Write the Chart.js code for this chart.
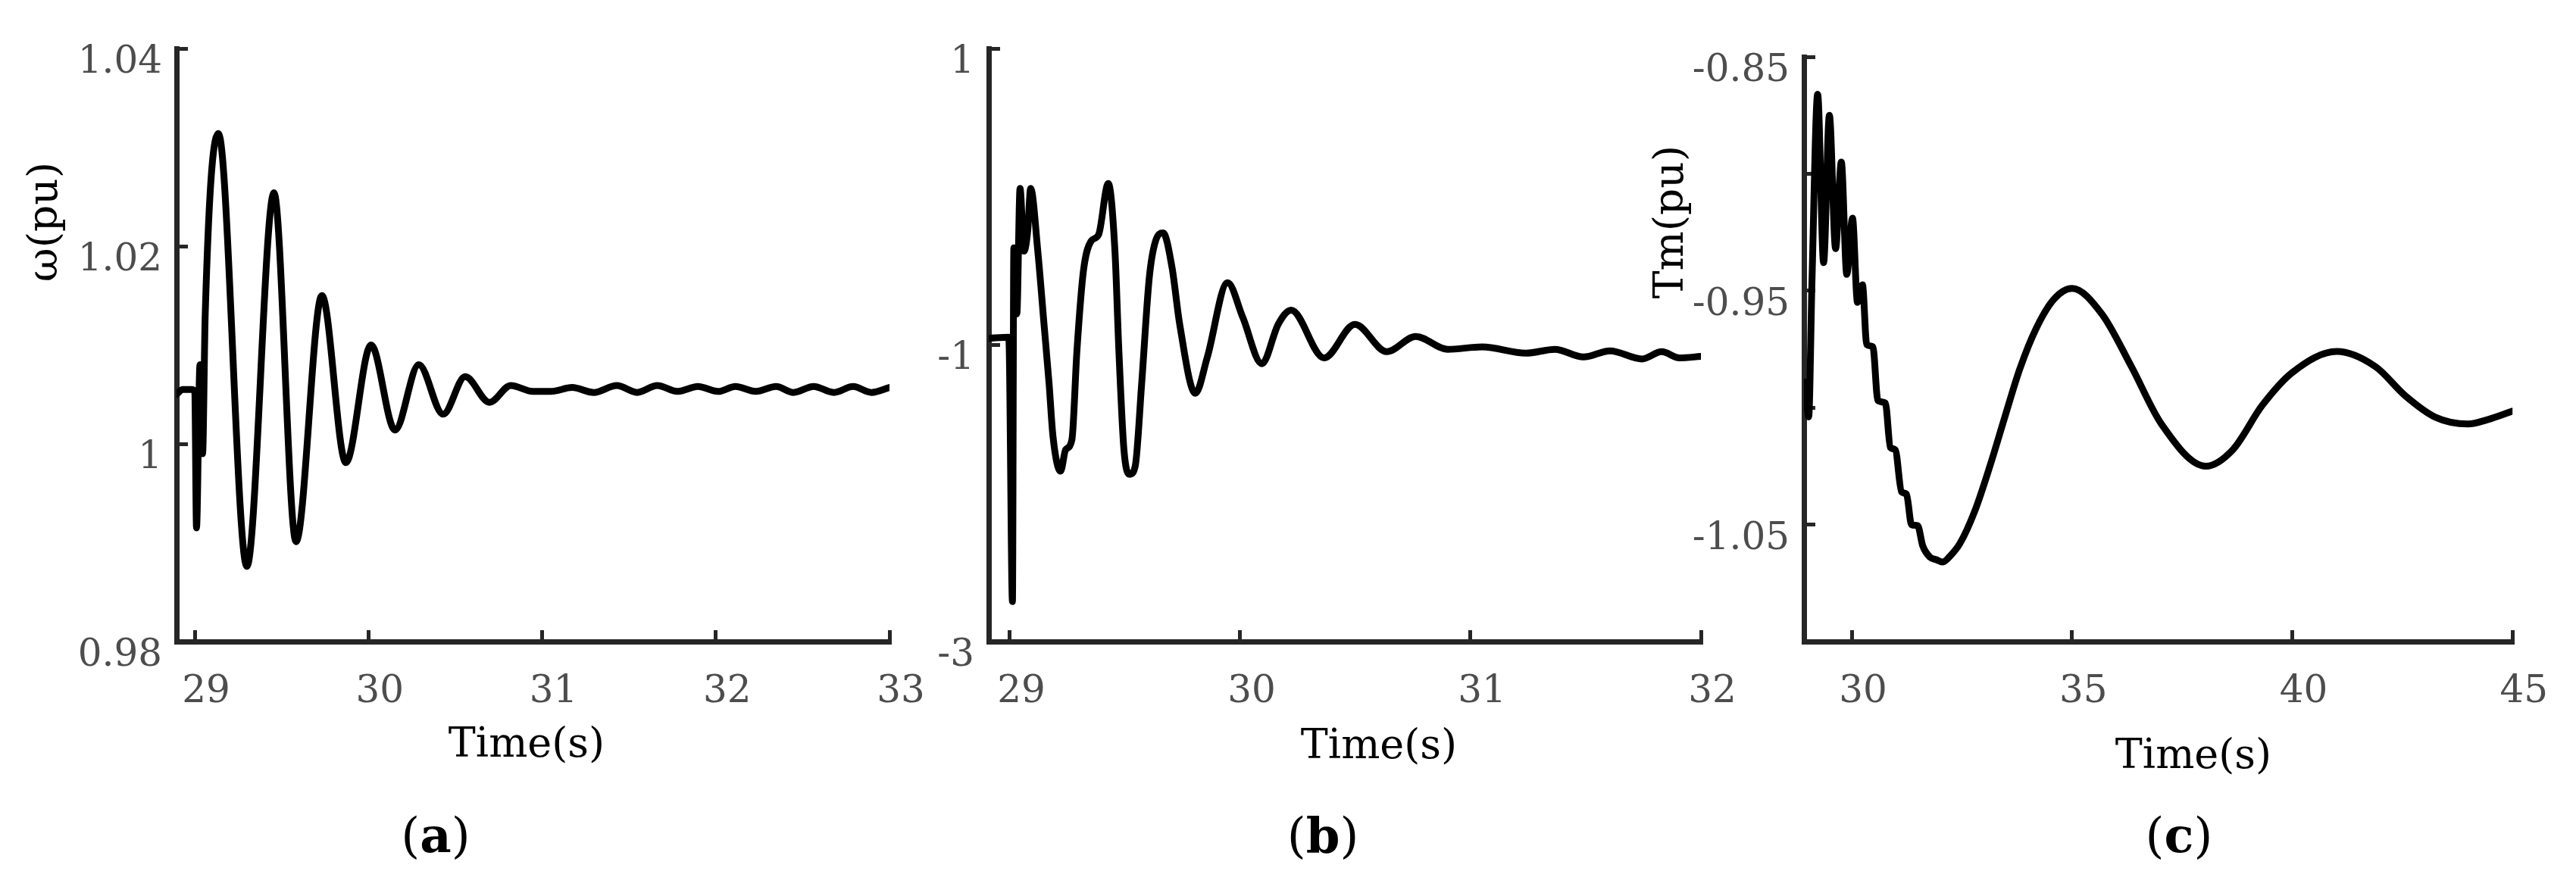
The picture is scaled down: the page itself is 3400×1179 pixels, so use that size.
<!DOCTYPE html>
<html>
<head>
<meta charset="utf-8">
<script src="https://cdn.jsdelivr.net/npm/chart.js@4.4.1/dist/chart.umd.min.js"></script>
<style>
  html, body { margin: 0; padding: 0; background: #fff; }
  body { width: 3400px; height: 1179px; position: relative; overflow: hidden; }
  .panel { position: absolute; top: 0; height: 1179px; }
</style>
</head>
<body>
<div class="panel" style="left:0px;width:1260px"><canvas id="chartA"></canvas></div>
<div class="panel" style="left:1190px;width:1140px"><canvas id="chartB"></canvas></div>
<div class="panel" style="left:2140px;width:1260px"><canvas id="chartC"></canvas></div>
<script>
// (a) rotor speed
var timeA = [28.895, 28.93, 28.985, 29.0, 29.01, 29.03, 29.045, 29.06, 29.136, 29.30, 29.456, 29.583,
    29.732, 29.870, 30.015, 30.153, 30.29, 30.43, 30.557, 30.697, 30.82, 30.947, 31.05, 31.173,
    31.297, 31.43, 31.547, 31.663, 31.78, 31.897, 32.013, 32.113, 32.23, 32.347, 32.447, 32.563,
    32.68, 32.79, 32.897, 33.0];
var omegaA = [1.0050, 1.0055, 1.0055, 1.0052, 0.9915, 1.0080, 0.9990, 1.0130, 1.0314, 0.9876, 1.0254, 0.9901,
    1.0150, 0.9981, 1.0100, 1.0014, 1.0080, 1.0030, 1.0068, 1.0042, 1.0059, 1.0053, 1.0053, 1.0057,
    1.0052, 1.0059, 1.0052, 1.0059, 1.0053, 1.0058, 1.0053, 1.0058, 1.0053, 1.0058, 1.0052, 1.0058,
    1.0052, 1.0058, 1.0052, 1.0057];
var xTicksA = [29, 30, 31, 32, 33];
var yTicksA = [0.98, 1.0, 1.02, 1.04];
var yLabelsA = ['0.98', '1', '1.02', '1.04'];

// (b)
var timeB = [28.908, 28.995, 29.011, 29.017, 29.03, 29.044, 29.061, 29.077, 29.090, 29.121, 29.148, 29.170,
    29.187, 29.220, 29.242, 29.269, 29.291, 29.319, 29.352, 29.385, 29.427, 29.456, 29.473, 29.495,
    29.520, 29.544, 29.572, 29.605, 29.632, 29.665, 29.704, 29.737, 29.805, 29.857, 29.945, 30.011,
    30.094, 30.165, 30.221, 30.364, 30.498, 30.636, 30.762, 30.90, 31.05, 31.24, 31.366, 31.49,
    31.605, 31.744, 31.83, 31.907, 32.0];
var valueB = [-0.955, -0.947, -2.73, -0.345, -0.79, 0.056, -0.367, -0.234, 0.056, -0.366, -0.859, -1.26,
    -1.617, -1.851, -1.706, -1.640, -1.037, -0.502, -0.30, -0.256, 0.090, -0.367, -1.037, -1.706,
    -1.872, -1.817, -1.26, -0.546, -0.30, -0.244, -0.479, -0.859, -1.326, -1.082, -0.580, -0.814,
    -1.126, -0.859, -0.765, -1.087, -0.861, -1.045, -0.942, -1.029, -1.013, -1.055, -1.029, -1.081,
    -1.039, -1.094, -1.045, -1.087, -1.077];
var xTicksB = [29, 30, 31, 32];
var yTicksB = [-3, -1, 1];
var yLabelsB = ['-3', '-1', '1'];

// (c) mechanical torque
var timeC = [28.915, 28.93, 29.022, 29.097, 29.226, 29.361, 29.492, 29.633, 29.763, 29.887, 30.017, 30.13,
    30.243, 30.339, 30.48, 30.593, 30.763, 30.876, 30.988, 31.13, 31.243, 31.356, 31.497, 31.61,
    31.78, 31.92, 32.063, 32.23, 32.458, 32.797, 33.136, 33.475, 33.814, 34.19, 34.59, 35.0,
    35.68, 36.35, 37.03, 38.04, 38.65, 39.32, 40.0, 41.01, 41.89, 42.57, 43.24, 43.99, 44.46, 45.0];
var torqueC = [-0.991, -0.989, -1.004, -0.946, -0.866, -0.938, -0.875, -0.932, -0.895, -0.943, -0.919, -0.955,
    -0.9475, -0.973, -0.974, -0.997, -0.998, -1.017, -1.018, -1.036, -1.037, -1.050, -1.0505, -1.059,
    -1.064, -1.065, -1.066, -1.0635, -1.058, -1.044, -1.025, -1.004, -0.9835, -0.966, -0.9536, -0.949,
    -0.960, -0.9825, -1.007, -1.025, -1.018, -0.999, -0.985, -0.976, -0.9825, -0.995, -1.004, -1.007, -1.005, -1.0015];
var xTicksC = [30, 35, 40, 45];
var yTicksC = [-1.10, -1.05, -1.0, -0.95, -0.90, -0.85];
var yLabelsC = ['', '-1.05', '', '-0.95', '', '-0.85'];

var FONT = 'DejaVu Serif';
var AXIS = '#262626';

// draws axis titles and the panel letter as text on the canvas
var panelText = {
    id: 'panelText',
    afterDraw: function (chart, args, opts) {
        var ctx = chart.ctx;
        ctx.save();
        ctx.fillStyle = '#000';
        ctx.textBaseline = 'middle';
        ctx.textAlign = 'center';
        (opts.titles || []).forEach(function (t) {
            ctx.save();
            ctx.font = t.size + 'px "' + FONT + '"';
            ctx.translate(t.x - opts.offset, t.y);
            if (t.rot) ctx.rotate(t.rot * Math.PI / 180);
            ctx.fillText(t.text, 0, 0);
            ctx.restore();
        });
        if (opts.letter) {
            var L = opts.letter;
            var reg = L.size + 'px "' + FONT + '"';
            var bold = 'bold ' + L.size + 'px "' + FONT + '"';
            var parts = [['(', reg], [L.text, bold], [')', reg]];
            var w = 0;
            parts.forEach(function (p) { ctx.font = p[1]; w += ctx.measureText(p[0]).width; });
            var x = L.x - opts.offset - w / 2;
            ctx.textAlign = 'left';
            parts.forEach(function (p) {
                ctx.font = p[1];
                ctx.fillText(p[0], x, L.y);
                x += ctx.measureText(p[0]).width;
            });
        }
        ctx.restore();
    }
};

function makeChart(id, p) {
    var pts = p.xs.map(function (x, i) { return { x: x, y: p.ys[i] }; });
    return new Chart(document.getElementById(id), {
        type: 'line',
        data: {
            datasets: [{
                data: pts,
                borderColor: '#000',
                borderWidth: 9,
                pointRadius: 0,
                fill: false,
                cubicInterpolationMode: 'monotone',
                borderCapStyle: 'round',
                borderJoinStyle: 'round'
            }]
        },
        options: {
            responsive: true,
            maintainAspectRatio: false,
            devicePixelRatio: 1,
            animation: false,
            events: [],
            layout: { padding: { left: 0, top: p.top, right: p.right, bottom: 0 } },
            plugins: {
                legend: { display: false },
                tooltip: { enabled: false },
                panelText: { offset: p.offset, titles: p.titles, letter: p.letter }
            },
            scales: {
                x: {
                    type: 'linear',
                    min: p.xMin,
                    max: p.xMax,
                    afterBuildTicks: function (s) { s.ticks = p.xTicks.map(function (v) { return { value: v }; }); },
                    afterFit: function (s) { s.height = 1179 - 847; },
                    border: { display: true, color: AXIS, width: 7 },
                    grid: { drawOnChartArea: false, drawTicks: true, tickLength: -15, tickWidth: 5, tickColor: AXIS },
                    ticks: {
                        autoSkip: false, maxRotation: 0, minRotation: 0,
                        padding: 52, labelOffset: 15,
                        color: '#4d4d4d',
                        font: { family: FONT, size: 50 },
                        callback: function (v) { return String(v); }
                    }
                },
                y: {
                    type: 'linear',
                    min: p.yMin,
                    max: p.yMax,
                    afterBuildTicks: function (s) { s.ticks = p.yTicks.map(function (v) { return { value: v }; }); },
                    afterFit: function (s) { s.width = p.plotLeft - p.offset; },
                    border: { display: true, color: AXIS, width: 7 },
                    grid: { drawOnChartArea: false, drawTicks: true, tickLength: -15, tickWidth: 5, tickColor: AXIS },
                    ticks: {
                        autoSkip: false,
                        padding: 34, labelOffset: 19,
                        color: '#4d4d4d',
                        font: { family: FONT, size: 50 },
                        callback: function (v, i) { return p.yLabels[i]; }
                    }
                }
            }
        },
        plugins: [panelText]
    });
}

makeChart('chartA', {
    xs: timeA, ys: omegaA, offset: 0, plotLeft: 233, top: 56, right: 86,
    xMin: 28.895, xMax: 33, yMin: 0.98, yMax: 1.04,
    xTicks: xTicksA, yTicks: yTicksA, yLabels: yLabelsA,
    titles: [
        { text: 'ω(pu)', x: 61, y: 293, rot: -90, size: 55 },
        { text: 'Time(s)', x: 695, y: 985, size: 54 }
    ],
    letter: { text: 'a', x: 575, y: 1108, size: 64 }
});

makeChart('chartB', {
    xs: timeB, ys: valueB, offset: 1190, plotLeft: 1305, top: 56, right: 85,
    xMin: 28.908, xMax: 32, yMin: -3, yMax: 1,
    xTicks: xTicksB, yTicks: yTicksB, yLabels: yLabelsB,
    titles: [
        { text: 'Time(s)', x: 1820, y: 987, size: 54 }
    ],
    letter: { text: 'b', x: 1746, y: 1108, size: 64 }
});

makeChart('chartC', {
    xs: timeC, ys: torqueC, offset: 2140, plotLeft: 2381, top: 75, right: 70,
    xMin: 28.915, xMax: 45, yMin: -1.10, yMax: -0.85,
    xTicks: xTicksC, yTicks: yTicksC, yLabels: yLabelsC,
    titles: [
        { text: 'Tm(pu)', x: 2207, y: 293, rot: -90, size: 55 },
        { text: 'Time(s)', x: 2895, y: 1000, size: 54 }
    ],
    letter: { text: 'c', x: 2876, y: 1108, size: 64 }
});
</script>
</body>
</html>
